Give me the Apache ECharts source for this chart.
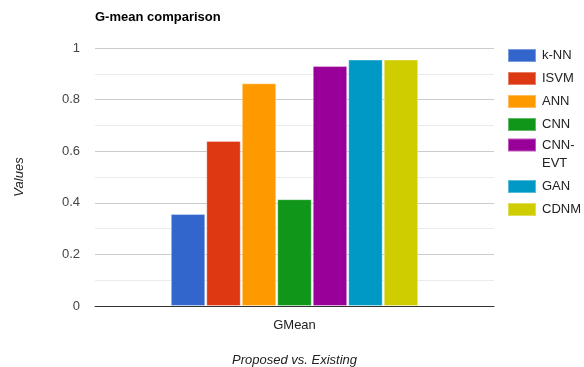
<!DOCTYPE html>
<html>
<head>
<meta charset="utf-8">
<script src="https://cdn.jsdelivr.net/npm/echarts@6/dist/echarts.min.js"></script>
<style>html,body{margin:0;padding:0;background:#fff}#c{width:584px;height:367px}</style>
</head>
<body>
<div id="c"></div>
<script>
const categories = ['GMean'];
const seriesNames = ['k-NN', 'ISVM', 'ANN', 'CNN', 'CNN-EVT', 'GAN', 'CDNM'];
const seriesValues = [0.357, 0.640, 0.863, 0.414, 0.930, 0.955, 0.955];
const seriesColors = ['#3366cc', '#dc3912', '#ff9900', '#109618', '#990099', '#0099c6', '#cfcc00'];
const yTicks = [0, 0.2, 0.4, 0.6, 0.8, 1];

const FONT = 'Liberation Sans, Arial, sans-serif';
const chart = echarts.init(document.getElementById('c'), null, {renderer: 'canvas'});

const series = seriesNames.map((n, i) => ({
  name: n,
  type: 'bar',
  data: [seriesValues[i]],
  barCategoryGap: '38%',
  barGap: '3%',
  itemStyle: {color: seriesColors[i], borderColor: 'rgba(255,255,255,0.35)', borderWidth: 1},
  emphasis: {disabled: true}
}));

const legendCommon = {
  orient: 'vertical', left: 507, padding: 0, itemWidth: 28, itemHeight: 13, itemGap: 8,
  icon: 'rect',
  textStyle: {fontFamily: FONT, fontSize: 13, color: '#222', padding: [0, 0, 0, 1]},
  selectedMode: false
};

chart.setOption({
  animation: false,
  title: {text: 'G-mean comparison', left: 95, top: 11, padding: 0,
    textStyle: {fontFamily: FONT, fontSize: 13, fontWeight: 'bold', color: '#000'}},
  legend: [
    Object.assign({}, legendCommon, {top: 48, data: seriesNames.slice(0, 4)}),
    Object.assign({}, legendCommon, {top: 118, data: seriesNames.slice(4, 5),
      textStyle: Object.assign({}, legendCommon.textStyle, {lineHeight: 18}),
      formatter: n => '\n' + n.replace('-', '-\n')}),
    Object.assign({}, legendCommon, {top: 179, data: seriesNames.slice(5)})
  ],
  grid: {left: 95, right: 90, top: 48, bottom: 61, containLabel: false, outerBoundsMode: 'none'},
  xAxis: {
    type: 'category', data: categories,
    name: 'Proposed vs. Existing', nameLocation: 'middle', nameGap: 48,
    nameTextStyle: {fontFamily: FONT, fontSize: 13, fontStyle: 'italic', color: '#222'},
    axisLine: {lineStyle: {color: '#333', width: 1}},
    axisTick: {show: false},
    axisLabel: {fontFamily: FONT, fontSize: 13, color: '#222', margin: 13}
  },
  yAxis: {
    type: 'value', min: yTicks[0], max: yTicks[yTicks.length - 1], interval: 0.2,
    name: 'Values', nameLocation: 'middle', nameGap: 69, nameRotate: 90,
    nameTextStyle: {fontFamily: FONT, fontSize: 13, fontStyle: 'italic', color: '#222'},
    axisLine: {show: false}, axisTick: {show: false},
    axisLabel: {fontFamily: FONT, fontSize: 13, color: '#444', margin: 15},
    splitLine: {lineStyle: {color: '#cccccc', width: 1}},
    minorTick: {show: false, splitNumber: 2},
    minorSplitLine: {show: true, lineStyle: {color: '#ebebeb', width: 1}}
  },
  series: series
});
</script>
</body>
</html>
